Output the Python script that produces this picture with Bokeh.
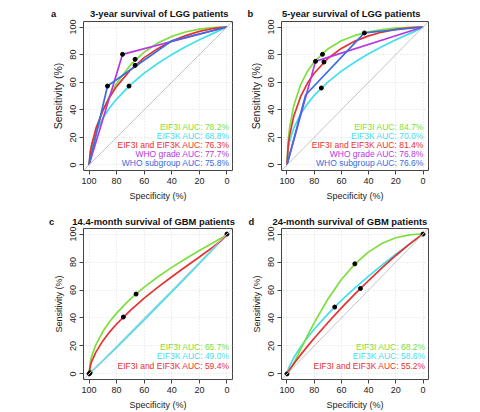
from bokeh.plotting import figure
from bokeh.layouts import gridplot
from bokeh.models import Range1d, Slope, Label, FixedTicker
from bokeh.embed import file_html
from bokeh.resources import INLINE

FONT = "Liberation Sans"
GREEN = "#7ddf3c"
CYAN = "#3fe0ee"
RED = "#e8302f"
PURPLE = "#b637e4"
BLUE = "#3b6de0"

TICKS = [0, 20, 40, 60, 80, 100]

# Specificity (%) at which the smoothed ROC curves are sampled
SPEC = [100, 99, 98, 95, 90, 85, 80, 70, 60, 50, 40, 30, 20, 10, 5, 1, 0]

# ---- a: 3-year survival of LGG patients ----
a_eif3i = [0, 7.0, 12.3, 24.4, 39.2, 50.4, 59.2, 72.5, 81.8, 88.5, 93.2, 96.4, 98.5, 99.6, 99.9, 100, 100]
a_eif3k = [0, 10.2, 14.7, 23.8, 33.9, 41.5, 47.8, 58.1, 66.6, 73.7, 80.0, 85.7, 90.7, 95.4, 97.6, 99.45, 100]
a_combo = [0, 9.5, 15.0, 26.5, 39.5, 49.2, 57.0, 68.9, 77.8, 84.5, 89.8, 93.8, 96.85, 98.9, 99.6, 99.95, 100]
a_grade_spec = [100, 75.7, 0]
a_grade_sens = [0, 80.2, 100]
a_sub_spec = [100, 86.6, 40, 0]
a_sub_sens = [0, 57.2, 90, 100]
a_dot_spec = [75.7, 86.6, 66.6, 66.6, 71.0]
a_dot_sens = [80.2, 57.2, 76.6, 72.2, 57.2]
a_auc = [78.2, 68.8, 76.3, 77.7, 75.8]

# ---- b: 5-year survival of LGG patients ----
b_eif3i = [0, 18.6, 27.2, 43.0, 58.1, 67.8, 74.7, 84.1, 90.0, 93.9, 96.5, 98.2, 99.25, 99.8, 99.95, 100, 100]
b_eif3k = [0, 12.5, 17.4, 26.8, 36.9, 44.3, 50.4, 60.1, 68.0, 74.7, 80.6, 85.9, 90.7, 95.2, 97.4, 99.3, 100]
b_combo = [0, 14.5, 21.6, 35.3, 49.5, 59.2, 66.5, 77.2, 84.5, 89.8, 93.6, 96.35, 98.26, 99.46, 99.8, 100, 100]
b_grade_spec = [100, 79.0, 0]
b_grade_sens = [0, 75.1, 100]
b_sub_spec = [100, 86.3, 43.1, 0]
b_sub_sens = [0, 50.7, 95.7, 100]
b_dot_spec = [43.1, 73.9, 79.0, 72.8, 74.7]
b_dot_sens = [95.7, 80.2, 75.1, 74.6, 55.8]
b_auc = [84.7, 70.0, 81.4, 76.8, 76.6]

# ---- c: 14.4-month survival of GBM patients ----
c_eif3i = [0, 8.8, 12.9, 21.0, 30.3, 37.5, 43.5, 53.6, 62.1, 69.5, 76.2, 82.4, 88.2, 93.8, 96.6, 99.1, 100]
c_eif3k = [0, 0.9, 1.8, 4.6, 9.4, 14.2, 19.0, 28.8, 38.6, 48.6, 58.6, 68.8, 79.0, 89.4, 94.6, 98.9, 100]
c_combo = [0, 6.0, 9.1, 15.6, 23.6, 30.1, 35.7, 45.5, 54.2, 62.1, 69.5, 76.6, 83.6, 90.9, 94.8, 98.5, 100]
c_dot_spec = [65.9, 75.1, 100, 99.2, 0]
c_dot_sens = [57.1, 40.7, 0, 0.8, 100]
c_auc = [65.7, 49.0, 59.4]

# ---- d: 24-month survival of GBM patients ----
d_eif3i = [0, 0.9, 2.3, 7.6, 17.3, 27.2, 36.5, 53.4, 67.5, 78.7, 87.3, 93.4, 97.4, 99.4, 99.9, 100, 100]
d_eif3k = [0, 3.4, 5.8, 11.5, 19.2, 25.9, 31.9, 42.8, 52.6, 61.6, 70.0, 78.0, 85.6, 92.8, 96.3, 99.2, 100]
d_combo = [0, 1.6, 3.1, 7.2, 13.6, 19.7, 25.5, 36.6, 47.2, 57.2, 66.8, 76.0, 84.7, 92.8, 96.6, 99.4, 100]
d_dot_spec = [50.1, 64.9, 46.0, 100, 0]
d_dot_sens = [78.7, 47.8, 61.1, 0, 100]
d_auc = [68.2, 58.6, 55.2]

NAMES = ["EIF3I", "EIF3K", "EIF3I and EIF3K", "WHO grade", "WHO subgroup"]
COLORS = [GREEN, CYAN, RED, PURPLE, BLUE]

NBSP = "\u00a0"


def panel(tag, title, smooth, steps, dots, aucs, *, left, right, top, bottom,
          ylabel_size, gap, title_offset, title_valign, auc_x, auc_y):
    p = figure(width=240, height=206, x_range=Range1d(104, -4), y_range=Range1d(-4, 104),
               output_backend="svg", toolbar_location=None,
               min_border_left=left, min_border_right=right,
               min_border_top=top, min_border_bottom=bottom,
               background_fill_color="white", border_fill_color="white")
    p.outline_line_color = "#444444"
    p.outline_line_width = 1

    # panel letter and heading share one title line, starting left of the frame
    p.title.text = tag + NBSP * gap + title
    p.title.align = "left"
    p.title.offset = title_offset
    p.title.vertical_align = title_valign
    p.title.standoff = 4
    p.title.text_font = FONT
    p.title.text_font_size = "9.4px"
    p.title.text_font_style = "bold"
    p.title.text_color = "#111111"

    for ax in (p.xaxis[0], p.yaxis[0]):
        ax.ticker = FixedTicker(ticks=TICKS)
        ax.axis_line_color = None
        ax.major_tick_line_color = "#444444"
        ax.major_tick_out = 4
        ax.major_tick_in = 0
        ax.minor_tick_out = 0
        ax.minor_tick_in = 0
        ax.major_label_text_font = FONT
        ax.major_label_text_font_size = "9px"
        ax.major_label_text_color = "#222222"
        ax.axis_label_text_font = FONT
        ax.axis_label_text_font_style = "normal"
        ax.axis_label_text_color = "#222222"
    p.xaxis.axis_label = "Specificity (%)"
    p.yaxis.axis_label = "Sensitivity (%)"
    p.xaxis.axis_label_text_font_size = "9px"
    p.yaxis.axis_label_text_font_size = ylabel_size
    p.xaxis.major_label_standoff = 3
    p.xaxis.axis_label_standoff = 4
    p.yaxis.major_label_standoff = 3
    p.yaxis.axis_label_standoff = 4
    p.yaxis.major_label_orientation = "vertical"

    for g in (p.xgrid[0], p.ygrid[0]):
        g.ticker = FixedTicker(ticks=TICKS)
        g.grid_line_color = "#dedede"
        g.grid_line_dash = "1 2"
        g.grid_line_width = 1

    # chance diagonal
    p.add_layout(Slope(gradient=-1, y_intercept=100, line_color="#c4c4c4", line_width=1))

    for sens, col in smooth:
        p.line(SPEC, sens, line_color=col, line_width=1.7)
    for xs, ys, col in steps:
        p.line(xs, ys, line_color=col, line_width=1.7)
    p.scatter(dots[0], dots[1], size=4, color="black")

    for i, auc in enumerate(aucs):
        p.add_layout(Label(x=auc_x, y=auc_y[i], text=f"{NAMES[i]} AUC: {auc:.1f}%",
                           text_align="right", text_baseline="middle",
                           text_font=FONT, text_font_size="8.5px", text_color=COLORS[i]))
    return p


LGG_Y = [27.5, 21, 14.5, 8, 1.5]
GBM_Y = [19.5, 12.8, 6]

pa = panel("a", "3-year survival of LGG patients",
           [(a_eif3k, CYAN), (a_eif3i, GREEN), (a_combo, RED)],
           [(a_grade_spec, a_grade_sens, PURPLE), (a_sub_spec, a_sub_sens, BLUE)],
           (a_dot_spec, a_dot_sens), a_auc,
           left=81, right=8, top=21, bottom=36, ylabel_size="10.5px",
           gap=13, title_offset=-32.6, title_valign="middle", auc_x=-1.8, auc_y=LGG_Y)

pb = panel("b", "5-year survival of LGG patients",
           [(b_eif3k, CYAN), (b_eif3i, GREEN), (b_combo, RED)],
           [(b_grade_spec, b_grade_sens, PURPLE), (b_sub_spec, b_sub_sens, BLUE)],
           (b_dot_spec, b_dot_sens), b_auc,
           left=41, right=51, top=21, bottom=36, ylabel_size="10.5px",
           gap=11, title_offset=-33.9, title_valign="middle", auc_x=-0.5, auc_y=LGG_Y)

pc = panel("c", "14.4-month survival of GBM patients",
           [(c_eif3k, CYAN), (c_eif3i, GREEN), (c_combo, RED)], [],
           (c_dot_spec, c_dot_sens), c_auc,
           left=83, right=8, top=22, bottom=33, ylabel_size="9px",
           gap=7, title_offset=-34.6, title_valign="bottom", auc_x=-1.8, auc_y=GBM_Y)

pd = panel("d", "24-month survival of GBM patients",
           [(d_eif3k, CYAN), (d_eif3i, GREEN), (d_combo, RED)], [],
           (d_dot_spec, d_dot_sens), d_auc,
           left=40, right=52, top=22, bottom=33, ylabel_size="9px",
           gap=7, title_offset=-32.9, title_valign="bottom", auc_x=-1.8, auc_y=GBM_Y)

grid = gridplot([[pa, pb], [pc, pd]], toolbar_location=None)

open("out.html", "w").write(file_html(grid, INLINE))
